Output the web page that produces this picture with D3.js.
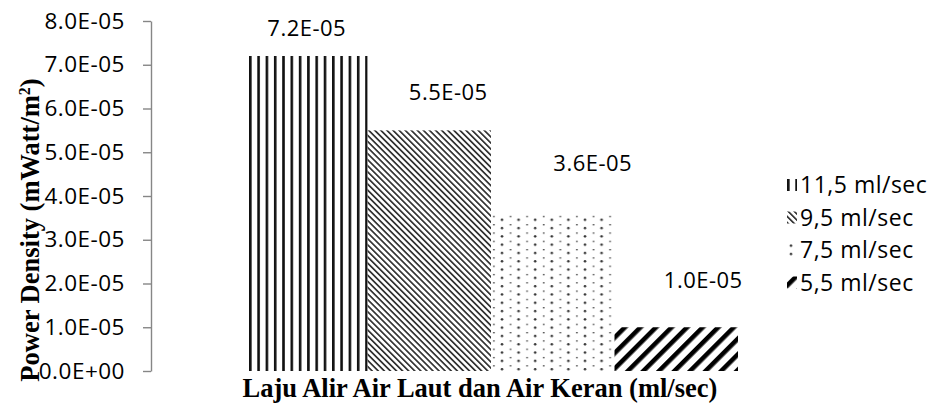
<!DOCTYPE html>
<meta charset="utf-8">
<style>
	body { margin: 0; background: #fff; }
	text { font-family: "Open Sans", sans-serif; font-size: 22px; fill: #000; letter-spacing: 0.5px; }
	.title { font-family: "Liberation Serif", "Times New Roman", serif; font-weight: bold; font-size: 26.5px; letter-spacing: 0; }
	.legend text { font-size: 23px; }
	.axis path, .axis line { stroke: #868686; stroke-width: 1.4px; }
</style>
<svg width="934" height="407"></svg>
<script src="https://d3js.org/d3.v7.min.js"></script>
<script>

	// data
	var series = ["11,5 ml/sec", "9,5 ml/sec", "7,5 ml/sec", "5,5 ml/sec"];
	var values = [7.2e-5, 5.5e-5, 3.6e-5, 1.0e-5];
	var valueLabels = ["7.2E-05", "5.5E-05", "3.6E-05", "1.0E-05"];
	var yTicks = [0, 1e-5, 2e-5, 3e-5, 4e-5, 5e-5, 6e-5, 7e-5, 8e-5];
	var yTickLabels = ["0.0E+00", "1.0E-05", "2.0E-05", "3.0E-05", "4.0E-05", "5.0E-05", "6.0E-05", "7.0E-05", "8.0E-05"];
	var patterns = ["pVert", "pDown", "pDots", "pUp"];

	// where Excel dropped the data labels (offset from bar centre / top)
	var labelNudge = [[1, -28], [19, -38], [40, -50], [27, -47]];

	var svg = d3.select("svg");

	var y = d3.scaleLinear().domain([0, 8e-5]).range([371, 21]);
	var x = d3.scaleBand().domain(series).range([244, 738]).padding(0);

	// fill patterns
	var defs = svg.append("defs");

	var pv = defs.append("pattern").attr("id", "pVert")
		.attr("patternUnits", "userSpaceOnUse").attr("width", 8.3).attr("height", 10);
	pv.append("rect").attr("x", 0).attr("y", 0).attr("width", 2.6).attr("height", 10).attr("fill", "#111");

	var pd = defs.append("pattern").attr("id", "pDown")
		.attr("patternUnits", "userSpaceOnUse").attr("width", 4.3).attr("height", 10)
		.attr("patternTransform", "rotate(-45)");
	pd.append("rect").attr("x", 0).attr("y", 0).attr("width", 1.7).attr("height", 10).attr("fill", "#333");

	var pdot = defs.append("pattern").attr("id", "pDots")
		.attr("patternUnits", "userSpaceOnUse").attr("width", 16.6).attr("height", 8.3);
	pdot.append("circle").attr("cx", 4).attr("cy", 4).attr("r", 1.3).attr("fill", "#333");
	pdot.append("rect").attr("x", 11.6).attr("y", 0).attr("width", 1.8).attr("height", 1.3).attr("fill", "#555");

	var pu = defs.append("pattern").attr("id", "pUp")
		.attr("patternUnits", "userSpaceOnUse").attr("width", 11).attr("height", 10)
		.attr("patternTransform", "rotate(45)");
	pu.append("rect").attr("x", 0).attr("y", 0).attr("width", 4.6).attr("height", 10).attr("fill", "#000");

	// bars
	svg.append("g").selectAll("rect")
		.data(values)
		.enter().append("rect")
		.attr("x", function (d, i) { return x(series[i]); })
		.attr("y", function (d) { return y(d); })
		.attr("width", x.bandwidth())
		.attr("height", function (d) { return y(0) - y(d); })
		.attr("fill", function (d, i) { return "url(#" + patterns[i] + ")"; });

	// data labels
	svg.append("g").selectAll("text")
		.data(values)
		.enter().append("text")
		.attr("text-anchor", "middle")
		.attr("x", function (d, i) { return x(series[i]) + x.bandwidth() / 2 + labelNudge[i][0]; })
		.attr("y", function (d, i) { return y(d) + labelNudge[i][1] + 7.5; })
		.text(function (d, i) { return valueLabels[i]; });

	// y axis
	var yAxis = d3.axisLeft(y)
		.tickValues(yTicks)
		.tickFormat(function (d, i) { return yTickLabels[i]; })
		.tickSize(8).tickSizeOuter(0).tickPadding(18);

	var ga = svg.append("g").attr("class", "axis")
		.attr("transform", "translate(151,0)")
		.call(yAxis);
	ga.selectAll("text").style("font-family", "Open Sans, sans-serif").style("font-size", "22.5px").attr("fill", "#000");

	// axis titles
	var yt = svg.append("text").attr("class", "title")
		.attr("text-anchor", "middle")
		.attr("transform", "translate(39,230) rotate(-90)");
	yt.append("tspan").text("Power Density (mWatt/m");
	yt.append("tspan").attr("font-size", "16px").attr("dy", "-9").text("2");
	yt.append("tspan").attr("dy", "9").text(")");

	svg.append("text").attr("class", "title")
		.attr("text-anchor", "middle")
		.attr("x", 480).attr("y", 397)
		.text("Laju Alir Air Laut dan Air Keran (ml/sec)");

	// legend
	var legend = svg.append("g").attr("class", "legend").selectAll("g")
		.data(series)
		.enter().append("g")
		.attr("transform", function (d, i) { return "translate(787," + (185 + i * 32.5) + ")"; });

	legend.append("rect")
		.attr("x", 0).attr("y", -6).attr("width", 10).attr("height", 12)
		.attr("fill", function (d, i) { return "url(#" + patterns[i] + ")"; });

	legend.append("text")
		.attr("x", 13).attr("y", 8)
		.text(function (d) { return d; });

</script>
